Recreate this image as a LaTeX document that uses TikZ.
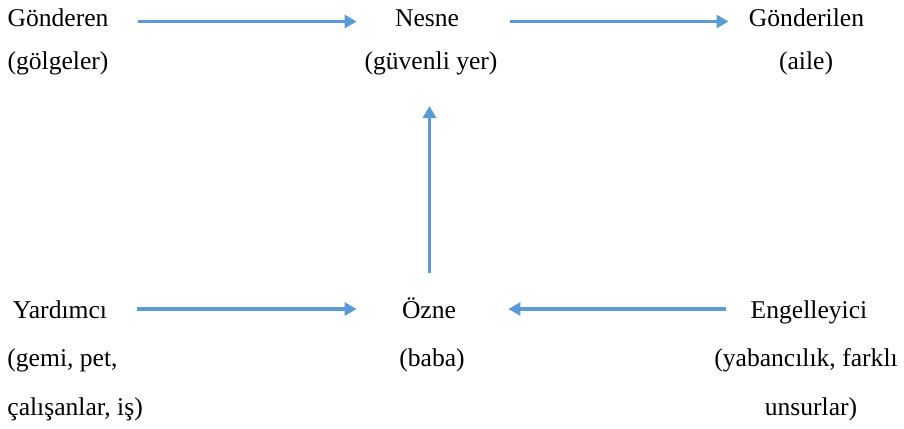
\documentclass[tikz,border=0pt]{standalone}
\usepackage{fontspec}
\setmainfont{Liberation Serif}
\usetikzlibrary{arrows.meta}
\definecolor{arrowblue}{RGB}{91,155,213}
\begin{document}
\begin{tikzpicture}[x=0.5pt,y=-0.5pt,
  lbl/.style={inner sep=0pt,anchor=base,font=\fontsize{12.8pt}{15pt}\selectfont},
  lblL/.style={lbl,anchor=base west},
  flow/.style={draw=arrowblue,line width=1.75pt,-{Triangle[length=6pt,width=6.5pt]}}]
\useasboundingbox (0,0) rectangle (904,428);

% top row: sender, object, receiver
\node[lbl] (gonderen) at (58,26) {Gönderen};
\node[lbl] (gonderenAlt) at (58,69) {(gölgeler)};
\node[lbl] (nesne) at (427,26) {Nesne};
\node[lbl] (nesneAlt) at (431,69) {(güvenli yer)};
\node[lbl] (gonderilen) at (806.5,26) {Gönderilen};
\node[lbl] (gonderilenAlt) at (806,69) {(aile)};

% bottom row: helper, subject, opponent
\node[lbl] (yardimci) at (60,318.5) {Yardımcı};
\node[lblL] (yardimciAlt1) at (7,366.5) {(gemi, pet,};
\node[lblL] (yardimciAlt2) at (7,415) {çalışanlar, iş)};
\node[lbl] (ozne) at (429,318.5) {Özne};
\node[lbl] (ozneAlt) at (432,366.5) {(baba)};
\node[lbl] (engel) at (809,318.5) {Engelleyici};
\node[lbl] (engelAlt1) at (806,366.5) {(yabancılık, farklı};
\node[lbl] (engelAlt2) at (811,415) {unsurlar)};

% connectors
\draw[flow] ([shift={(29.5,-4.5)}]gonderen.base east) -- ([shift={(-38,-4.5)}]nesne.base west);
\draw[flow] ([shift={(51,-4.5)}]nesne.base east) -- ([shift={(-20,-4.5)}]gonderilen.base west);
\draw[flow] ([shift={(30,-9.5)}]yardimci.base east) -- ([shift={(-45,-9.5)}]ozne.base west);
\draw[flow] ([shift={(-24,-9.5)}]engel.base west) -- ([shift={(52,-9.5)}]ozne.base east);
\draw[flow] ([shift={(0.5,-45.5)}]ozne.base) -- ([shift={(-1.5,37)}]nesneAlt.base);
\end{tikzpicture}
\end{document}
